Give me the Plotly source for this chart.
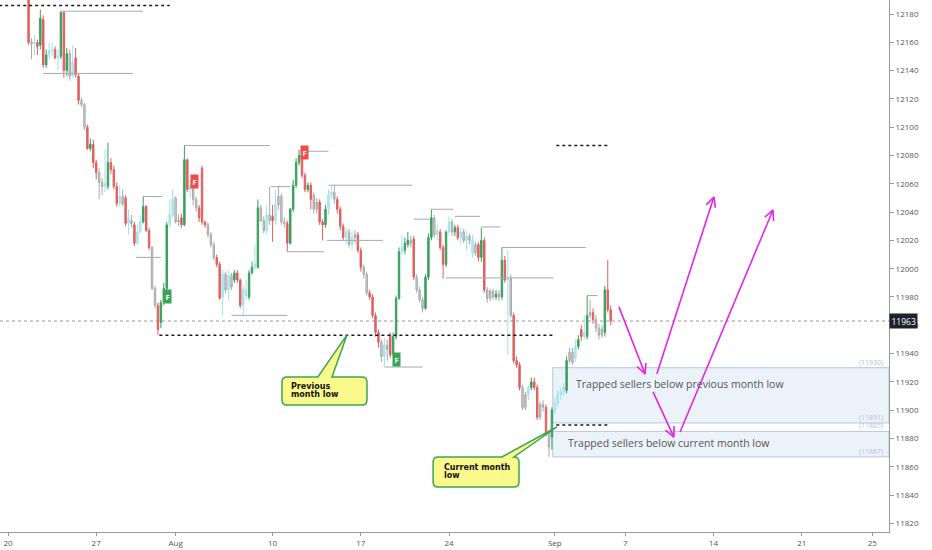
import math
import plotly.graph_objects as go

# 4h candles, index 0 = Mon Jul 20 00:00 (6 bars per trading day)
first_bar = 7
opens = [12201, 12160, 12159, 12160, 12158, 12176, 12144, 12151, 12154, 12155,
         12149, 12150, 12181, 12140, 12152, 12136, 12149, 12136, 12119, 12116,
         12100, 12085, 12088, 12075, 12068, 12061, 12058, 12058, 12075, 12070,
         12058, 12046, 12051, 12050, 12032, 12034, 12031, 12018, 12026, 12033,
         12044, 12027, 12015, 11986, 11974, 11962, 11976, 11986, 12031, 12038,
         12050, 12033, 12036, 12031, 12077, 12056, 12059, 12049, 12043, 12071,
         12033, 12031, 12024, 12017, 12008, 12003, 11980, 11996, 11985, 11995,
         11992, 11997, 11992, 11974, 11985, 11980, 11997, 12001, 12001, 12043,
         12034, 12027, 12038, 12037, 12034, 12045, 12051, 12033, 12032, 12018,
         12042, 12059, 12075, 12080, 12066, 12056, 12059, 12052, 12042, 12047,
         12033, 12031, 12042, 12052, 12054, 12049, 12042, 12030, 12022, 12026,
         12017, 12022, 12024, 12013, 12001, 11996, 11983, 11980, 11967, 11955,
         11948, 11938, 11946, 11953, 11940, 11952, 11979, 12012, 12013, 12017,
         12020, 12021, 11994, 11985, 11978, 11972, 11994, 12022, 12036, 12024,
         12026, 12015, 12003, 12026, 12033, 12026, 12029, 12022, 12026, 12020,
         12023, 12020, 12011, 12017, 12008, 12020, 11985, 11979, 11984, 11980,
         11982, 11980, 12006, 11992, 11993, 11967, 11935, 11932, 11916, 11902,
         11911, 11916, 11920, 11916, 11895, 11904, 11902, 11884, 11881, 11900,
         11905, 11911, 11913, 11914, 11935, 11941, 11937, 11945, 11957, 11952,
         11952, 11967, 11969, 11964, 11958, 11953, 11955, 11985, 11971]
highs = [12204, 12163, 12165, 12162, 12183, 12179, 12155, 12160, 12160, 12157,
         12155, 12182, 12182, 12156, 12155, 12158, 12156, 12138, 12121, 12117,
         12102, 12092, 12091, 12077, 12071, 12064, 12084, 12089, 12078, 12073,
         12061, 12059, 12056, 12052, 12042, 12038, 12033, 12031, 12038, 12051,
         12045, 12029, 12016, 11988, 11976, 11978, 11990, 12033, 12049, 12056,
         12051, 12038, 12039, 12087, 12078, 12063, 12061, 12051, 12045, 12073,
         12034, 12033, 12026, 12019, 12010, 12005, 11999, 11998, 11999, 11997,
         11999, 11999, 11993, 11988, 11992, 11999, 12005, 12017, 12049, 12045,
         12037, 12045, 12058, 12045, 12056, 12058, 12053, 12036, 12034, 12043,
         12063, 12078, 12084, 12084, 12068, 12061, 12061, 12054, 12050, 12049,
         12035, 12045, 12056, 12059, 12059, 12051, 12044, 12032, 12029, 12028,
         12027, 12027, 12026, 12015, 12003, 11998, 11985, 11982, 11969, 11957,
         11950, 11951, 11950, 11955, 11955, 11981, 12015, 12024, 12022, 12026,
         12023, 12023, 11996, 11987, 11980, 11996, 12025, 12042, 12038, 12031,
         12028, 12017, 12027, 12037, 12035, 12031, 12031, 12029, 12028, 12027,
         12025, 12024, 12019, 12019, 12029, 12022, 11987, 11986, 11986, 11985,
         11985, 12015, 12009, 12013, 11996, 11969, 11938, 11934, 11918, 11913,
         11918, 11923, 11923, 11918, 11906, 11907, 11904, 11886, 11902, 11909,
         11914, 11916, 11919, 11938, 11944, 11944, 11950, 11953, 11960, 11967,
         11981, 11978, 11972, 11967, 11961, 11960, 11988, 12006, 11974]
lows = [12158, 12148, 12151, 12151, 12155, 12142, 12142, 12148, 12150, 12148,
        12140, 12148, 12135, 12136, 12133, 12135, 12135, 12116, 12114, 12098,
        12084, 12083, 12071, 12063, 12049, 12052, 12054, 12056, 12067, 12056,
        12044, 12044, 12044, 12030, 12024, 12029, 12016, 12017, 12025, 12032,
        12026, 12013, 11985, 11972, 11953, 11958, 11974, 11985, 12029, 12036,
        12032, 12030, 12029, 12030, 12054, 12050, 12045, 12040, 12033, 12031,
        12029, 12022, 12015, 12006, 12001, 11978, 11967, 11983, 11978, 11985,
        11990, 11990, 11972, 11967, 11978, 11978, 11996, 11999, 12000, 12033,
        12025, 12024, 12031, 12019, 12031, 12042, 12031, 12029, 12012, 12017,
        12040, 12057, 12073, 12064, 12054, 12054, 12042, 12039, 12039, 12031,
        12020, 12029, 12038, 12049, 12046, 12039, 12027, 12020, 12017, 12015,
        12013, 12018, 12011, 11998, 11993, 11981, 11978, 11965, 11952, 11944,
        11934, 11931, 11935, 11937, 11938, 11950, 11978, 12010, 12010, 12015,
        12015, 11992, 11983, 11976, 11969, 11971, 11992, 12020, 12022, 12020,
        12013, 11993, 12001, 12024, 12023, 12023, 12020, 12017, 12018, 12013,
        12017, 12008, 12009, 12005, 12005, 11983, 11976, 11977, 11978, 11978,
        11977, 11978, 11990, 11939, 11965, 11933, 11930, 11914, 11900, 11900,
        11907, 11914, 11914, 11893, 11893, 11899, 11882, 11867, 11872, 11897,
        11902, 11907, 11910, 11912, 11933, 11932, 11934, 11943, 11949, 11950,
        11950, 11965, 11961, 11955, 11950, 11951, 11952, 11969, 11960]
closes = [12160, 12159, 12160, 12157, 12177, 12144, 12151, 12154, 12155, 12149,
          12150, 12181, 12140, 12152, 12136, 12146, 12137, 12119, 12116, 12100,
          12085, 12088, 12075, 12068, 12061, 12058, 12060, 12075, 12070, 12058,
          12046, 12051, 12046, 12032, 12036, 12032, 12018, 12026, 12033, 12044,
          12027, 12015, 11986, 11974, 11957, 11976, 11986, 12031, 12038, 12049,
          12033, 12034, 12031, 12077, 12056, 12059, 12049, 12043, 12036, 12033,
          12031, 12024, 12017, 12008, 12003, 11979, 11996, 11985, 11995, 11987,
          11997, 11992, 11974, 11985, 11981, 11997, 12001, 12003, 12043, 12034,
          12027, 12038, 12034, 12034, 12045, 12051, 12033, 12032, 12018, 12042,
          12059, 12075, 12080, 12066, 12056, 12059, 12049, 12042, 12047, 12033,
          12031, 12042, 12052, 12054, 12049, 12042, 12030, 12022, 12026, 12017,
          12022, 12024, 12013, 12001, 11996, 11983, 11980, 11967, 11955, 11948,
          11938, 11946, 11943, 11939, 11952, 11979, 12012, 12015, 12018, 12020,
          12018, 11994, 11985, 11978, 11972, 11994, 12022, 12036, 12024, 12027,
          12015, 12003, 12026, 12033, 12026, 12029, 12022, 12026, 12020, 12023,
          12020, 12011, 12017, 12008, 12020, 11985, 11979, 11984, 11980, 11982,
          11980, 12006, 11992, 11993, 11967, 11935, 11932, 11916, 11902, 11911,
          11916, 11920, 11916, 11895, 11904, 11902, 11884, 11874, 11900, 11905,
          11911, 11913, 11916, 11935, 11941, 11934, 11945, 11950, 11952, 11955,
          11967, 11969, 11964, 11958, 11953, 11957, 11985, 11971, 11963]
# bar colouring of the indicator: g green, r red, s grey, c cyan
bar_kind = ("rscrgrgccr" "cgrgscrrss" "rgrrsscgrr" "rcsrcsrccg" "rrssrgggcc"
            "ssrgrcssrr" "rsssrrcscs" "grrccggcgs" "scsrcsssrg" "gggrrgrssr"
            "rgccsrrrcs" "csrrssrrrr" "scsrgggcgg" "srsssgggsc" "rrgcsgrcsc"
            "scsrgrsssg" "sgrcsrrrss" "cgrrssrsgc" "cccgsscgrc" "gsrsssgrr")

# swing high / low levels (bar index from, bar index to, price)
level_start = [18, 12, 46, 43.5, 60, 76, 89.5, 109, 95, 100, 108.5, 128, 138, 144, 149, 152, 161, 168, 197]
level_end = [46, 42.5, 52.5, 52, 89, 95, 96, 137.5, 107.5, 109, 127.5, 141, 143.5, 151.5, 185.5, 160.5, 167.5, 196.5, 200.5]
level_price = [12182, 12138, 12051, 12008, 12087, 11967, 12058, 12059, 12012, 12083, 12020, 11930.5, 12035, 12042,
               11993.5, 12037, 12029.5, 12015, 11981]

# month / week extremes (dotted black)
mlevel_start = [-3, 51.5, 186.5, 186.5]
mlevel_end = [55, 186, 204, 204]
mlevel_price = [12186, 11953, 12087, 11889.5]

last_price = 11963

zone_start = 185.3
zone_top = [11930, 11885]
zone_bottom = [11891, 11867]
zone_text = ["Trapped sellers below previous month low", "Trapped sellers below current month low"]
zone_text_x = [192.5, 189.8]
zone_text_y = [11918.5, 11876.8]

# projected path arrows (tail, tip)
arrow_tail = [(207.8, 11973), (220.7, 11925.6), (219.4, 11912.9), (228.6, 11884.6)]
arrow_tip = [(216.7, 11925.6), (240.1, 12050.7), (226.5, 11881), (260.2, 12041.5)]

# "F" signals
sig_x = [54.4, 63.3, 101, 132.3]
sig_y = [11980.7, 12061.3, 12081.8, 11935.5]
sig_up = [True, False, False, True]

tick_pos = [0, 30, 57, 90, 120, 150, 186, 210, 240, 270, 294]
tick_text = ["20", "27", "Aug", "10", "17", "24", "Sep", "7", "14", "21", "25"]
price_ticks = list(range(11820, 12181, 20))

X_MIN, X_MAX = -2.72, 299.66
Y_MIN, Y_MAX = 11813.9, 12189.9
PX_I = 889 / (X_MAX - X_MIN)
PX_P = 532 / (Y_MAX - Y_MIN)

colors = {
    "g": ("#3a9f5d", "#3a9f5d"),
    "r": ("#e05f60", "#e05f60"),
    "s": ("#d2d2d2", "#a9a9a9"),
    "c": ("#b6edf3", "#9ee2ec"),
}

fig = go.Figure()

bars = list(range(first_bar, first_bar + len(closes)))
for kind, (fill, line) in colors.items():
    idx = [k for k in range(len(closes)) if bar_kind[k] == kind]
    fig.add_trace(go.Candlestick(
        x=[bars[k] for k in idx],
        open=[opens[k] for k in idx],
        high=[highs[k] for k in idx],
        low=[lows[k] for k in idx],
        close=[closes[k] for k in idx],
        increasing=dict(fillcolor=fill, line=dict(color=line, width=1)),
        decreasing=dict(fillcolor=fill, line=dict(color=line, width=1)),
        whiskerwidth=0,
        hoverinfo="skip",
        showlegend=False,
    ))

# grey swing levels
lx, ly = [], []
for a, b, p in zip(level_start, level_end, level_price):
    lx += [a, b, None]
    ly += [p, p, None]
fig.add_trace(go.Scatter(x=lx, y=ly, mode="lines", line=dict(color="#a8a8a8", width=1),
                         hoverinfo="skip", showlegend=False))

# dotted month levels
mx, my = [], []
for a, b, p in zip(mlevel_start, mlevel_end, mlevel_price):
    mx += [a, b, None]
    my += [p, p, None]
fig.add_trace(go.Scatter(x=mx, y=my, mode="lines", line=dict(color="#1a1a1a", width=1.5, dash="dot"),
                         hoverinfo="skip", showlegend=False))

# magenta arrows with open heads
def head(tail, tip, ang):
    dx = (tail[0] - tip[0]) * PX_I
    dy = (tail[1] - tip[1]) * PX_P
    n = math.hypot(dx, dy)
    dx, dy = dx / n * 11, dy / n * 11
    c, s = math.cos(ang), math.sin(ang)
    ex, ey = dx * c - dy * s, dx * s + dy * c
    return tip[0] + ex / PX_I, tip[1] + ey / PX_P

ax, ay = [], []
for t0, t1 in zip(arrow_tail, arrow_tip):
    h1 = head(t0, t1, 0.45)
    h2 = head(t0, t1, -0.45)
    ax += [t0[0], t1[0], None, h1[0], t1[0], h2[0], None]
    ay += [t0[1], t1[1], None, h1[1], t1[1], h2[1], None]
fig.add_trace(go.Scatter(x=ax, y=ay, mode="lines", line=dict(color="#e426e4", width=1.6),
                         hoverinfo="skip", showlegend=False))

shapes = []
# trapped-seller zones
for top, bot in zip(zone_top, zone_bottom):
    shapes.append(dict(type="rect", xref="x", yref="y", x0=zone_start, x1=X_MAX, y0=bot, y1=top,
                       fillcolor="rgba(218,229,246,0.5)", line=dict(color="#b8c6dc", width=1), layer="below"))
# last price line
shapes.append(dict(type="line", xref="paper", yref="y", x0=0, x1=1, y0=last_price, y1=last_price,
                   line=dict(color="#9a9a9a", width=1, dash="dot"), layer="below"))


def callout(x0, x1, ytop, ybot, w0, w1, tip):
    rx, ry = 5 / PX_I, 5 / PX_P
    return (f"M {x0 + rx},{ytop} L {w0},{ytop} L {tip[0]},{tip[1]} L {w1},{ytop} L {x1 - rx},{ytop} "
            f"Q {x1},{ytop} {x1},{ytop - ry} L {x1},{ybot + ry} Q {x1},{ybot} {x1 - rx},{ybot} "
            f"L {x0 + rx},{ybot} Q {x0},{ybot} {x0},{ybot + ry} L {x0},{ytop - ry} Q {x0},{ytop} {x0 + rx},{ytop} Z")


for path in [callout(93.2, 122.1, 11923.5, 11903.7, 105.4, 110.2, (115.3, 11953.2)),
             callout(144.6, 173.8, 11866.9, 11845.7, 168.0, 172.1, (186.7, 11888.1))]:
    shapes.append(dict(type="path", xref="x", yref="y", path=path, fillcolor="#fcf98c",
                       line=dict(color="#3aa655", width=1.5), layer="above"))

ann = []
for txt, x, y in zip(["Previous", "month low", "Current month", "low"],
                     [95.6, 95.6, 147.6, 147.6], [11916.6, 11911.0, 11859.3, 11853.6]):
    ann.append(dict(x=x, y=y, xref="x", yref="y", text=f"<b>{txt}</b>", showarrow=False,
                    xanchor="left", yanchor="middle",
                    font=dict(family="DejaVu Sans", size=8, color="#111")))

for txt, x, y in zip(zone_text, zone_text_x, zone_text_y):
    ann.append(dict(x=x, y=y, xref="x", yref="y", text=txt, showarrow=False, xanchor="left",
                    yanchor="middle", font=dict(family="Open Sans", size=10.5, color="#555")))

for v in zone_top + zone_bottom:
    ann.append(dict(x=298.2, y=v, xref="x", yref="y", text=f"({v})", showarrow=False, xanchor="right",
                    yanchor="bottom", yshift=-1, font=dict(family="Open Sans", size=7, color="#b3c2d8")))

for x, y, up in zip(sig_x, sig_y, sig_up):
    ann.append(dict(x=x, y=y, xref="x", yref="y", text="<b>F</b>", showarrow=False,
                    bgcolor="#3aa655" if up else "#ef4b4b", borderpad=1.5,
                    font=dict(family="Open Sans", size=7.5, color="white")))

ann.append(dict(x=1, y=last_price, xref="paper", yref="y", text=str(last_price), showarrow=False,
                xanchor="left", yanchor="middle", bgcolor="#1e222d", borderpad=1.5,
                font=dict(family="Open Sans", size=8.5, color="white")))

fig.update_layout(
    width=932, height=550,
    margin=dict(l=0, r=43, t=0, b=18),
    paper_bgcolor="white", plot_bgcolor="white",
    shapes=shapes, annotations=ann,
    showlegend=False,
    xaxis=dict(range=[X_MIN, X_MAX], tickvals=tick_pos, ticktext=tick_text, showgrid=False,
               zeroline=False, showline=True, linecolor="#9a9a9a", ticks="outside", ticklen=3,
               tickcolor="#9a9a9a", tickfont=dict(family="Open Sans", size=8, color="#555"),
               rangeslider=dict(visible=False), automargin=False),
    yaxis=dict(range=[Y_MIN, Y_MAX], side="right", tickvals=price_ticks, tickformat="d", showgrid=False,
               zeroline=False, showline=True, linecolor="#9a9a9a", ticks="outside", ticklen=4,
               tickcolor="#9a9a9a", tickfont=dict(family="Open Sans", size=8, color="#555"),
               automargin=False),
)

fig.write_html("out.html", config={"displayModeBar": False})

# drop the browser's default page margin so the figure fills the window
with open("out.html", encoding="utf-8") as f:
    page = f.read()
page = page.replace("<body>", '<body style="margin:0;overflow:hidden">', 1)
with open("out.html", "w", encoding="utf-8") as f:
    f.write(page)
